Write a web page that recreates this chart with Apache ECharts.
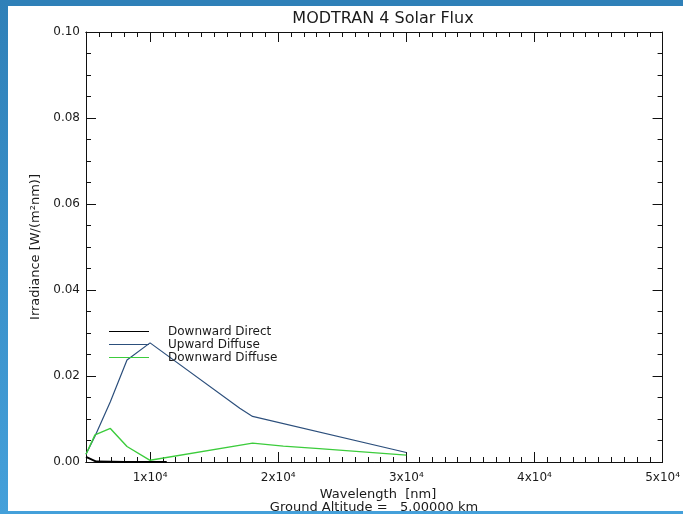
<!DOCTYPE html>
<html>
<head>
<meta charset="utf-8">
<script src="https://cdn.jsdelivr.net/npm/echarts@6/dist/echarts.min.js"></script>
<style>
html,body{margin:0;padding:0;background:#fff;}
#c{width:683px;height:514px;}
</style>
</head>
<body>
<div id="c"></div>
<script>
// Data
var wlUp = [5000, 5700, 6900, 8200, 10000, 17000, 18000, 30000];
var upwardDiffuse = [0.0018, 0.0060, 0.0140, 0.0237, 0.0277, 0.0125, 0.0106, 0.0022];

var wlDown = [5000, 5700, 6900, 8200, 10000, 18000, 20400, 23200, 30000];
var downwardDiffuse = [0.0018, 0.0063, 0.0078, 0.0036, 0.0004, 0.0044, 0.0037, 0.0031, 0.0016];

var wlDirect = [5000, 5800, 7000, 8000, 10000, 11300];
var downwardDirect = [0.0012, 0.0001, 0.00005, 0.0, 0.0, 0.0];

var xMajor = [10000, 20000, 30000, 40000, 50000];
var xLabels = ['1x10⁴', '2x10⁴', '3x10⁴', '4x10⁴', '5x10⁴'];
var yLabelsFmt = function (v) { return v.toFixed(2); };

function pairs(xs, ys) { return xs.map(function (x, i) { return [x, ys[i]]; }); }

var FONT = 'DejaVu Sans';
var TXT = '#1a1a1a';
var chart = echarts.init(document.getElementById('c'), null, {renderer: 'canvas'});

var commonX = {
  type: 'value', min: 5000, max: 50000,
  splitLine: {show: false},
  axisLine: {show: true, onZero: false, lineStyle: {color: '#111', width: 1}}
};
function xAxisDef(pos, major, labels) {
  var a = Object.assign({}, commonX, {position: pos});
  if (major) {
    a.interval = 5000;
    a.axisTick = {show: true, inside: true, length: 10, customValues: xMajor, lineStyle: {color: '#111'}};
    a.axisLabel = labels ? {
      show: true, customValues: xMajor, fontFamily: FONT, fontSize: 12, color: TXT, margin: 10,
      formatter: function (v) { var i = xMajor.indexOf(v); return i >= 0 ? xLabels[i] : ''; }
    } : {show: false};
  } else {
    a.interval = 1000;
    a.axisTick = {show: true, inside: true, length: 5, lineStyle: {color: '#111'}};
    a.axisLabel = {show: false};
  }
  return a;
}
function yAxisDef(pos, labels) {
  return {
    type: 'value', min: 0, max: 0.1, interval: 0.02, position: pos,
    splitLine: {show: false},
    axisLine: {show: true, onZero: false, lineStyle: {color: '#111', width: 1}},
    axisTick: {show: true, inside: true, length: 10, lineStyle: {color: '#111'}},
    minorTick: {show: true, splitNumber: 4, length: 5, lineStyle: {color: '#111'}},
    axisLabel: labels ? {show: true, fontFamily: FONT, fontSize: 12, color: TXT, margin: 6, formatter: yLabelsFmt} : {show: false},
    name: labels ? 'Irradiance [W/(m²nm)]' : '',
    nameLocation: 'middle', nameGap: 42, nameRotate: 90,
    nameTextStyle: {fontFamily: FONT, fontSize: 13, color: TXT}
  };
}

chart.setOption({
  backgroundColor: '#ffffff',
  animation: false,
  graphic: [
    {type: 'rect', z: -10, shape: {x: 0, y: 0, width: 683, height: 6}, style: {fill: '#2f80b8'}},
    {type: 'rect', z: -10, shape: {x: 0, y: 0, width: 8, height: 514},
      style: {fill: new echarts.graphic.LinearGradient(0, 0, 0, 1, [{offset: 0, color: '#2f80b8'}, {offset: 1, color: '#44a0da'}])}},
    {type: 'rect', z: -10, shape: {x: 0, y: 511, width: 683, height: 3}, style: {fill: '#44a0da'}}
  ],
  title: [
    {text: 'MODTRAN 4 Solar Flux', left: 378, top: 6, textAlign: 'center',
      textStyle: {fontFamily: FONT, fontSize: 16, fontWeight: 'normal', color: TXT}},
    {text: 'Wavelength  [nm]', left: 373, top: 483, textAlign: 'center',
      textStyle: {fontFamily: FONT, fontSize: 13, fontWeight: 'normal', color: TXT}},
    {text: 'Ground Altitude =   5.00000 km', left: 369, top: 496, textAlign: 'center',
      textStyle: {fontFamily: FONT, fontSize: 13, fontWeight: 'normal', color: TXT}}
  ],
  grid: {left: 86, right: 20, top: 32, bottom: 52, containLabel: false},
  legend: {
    orient: 'vertical', left: 104, top: 320, itemWidth: 40, itemHeight: 13, itemGap: 0,
    icon: 'path://M0,0 L40,0 L40,1 L0,1 Z',
    data: ['Downward Direct', 'Upward Diffuse', 'Downward Diffuse'],
    textStyle: {fontFamily: FONT, fontSize: 12, color: TXT, padding: [0, 0, 0, 14], lineHeight: 13}
  },
  xAxis: [
    xAxisDef('bottom', false),
    xAxisDef('bottom', true, true),
    xAxisDef('top', false),
    xAxisDef('top', true, false)
  ],
  yAxis: [yAxisDef('left', true), yAxisDef('right', false)],
  series: [
    {name: 'Downward Direct', type: 'line', symbol: 'none', data: pairs(wlDirect, downwardDirect),
      lineStyle: {color: '#000', width: 2}, itemStyle: {color: '#000'}},
    {name: 'Upward Diffuse', type: 'line', symbol: 'none', data: pairs(wlUp, upwardDiffuse),
      lineStyle: {color: '#2c4f7c', width: 1.2}, itemStyle: {color: '#2c4f7c'}},
    {name: 'Downward Diffuse', type: 'line', symbol: 'none', data: pairs(wlDown, downwardDiffuse),
      lineStyle: {color: '#3ccc3c', width: 1.4}, itemStyle: {color: '#3ccc3c'}}
  ]
});
</script>
</body>
</html>
